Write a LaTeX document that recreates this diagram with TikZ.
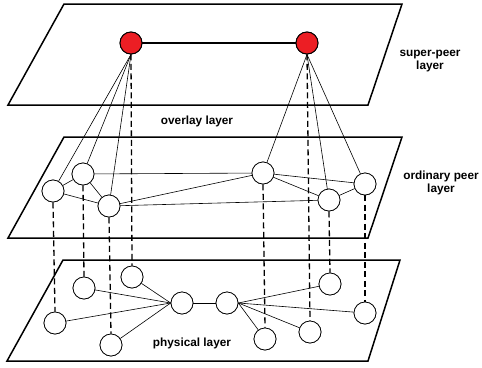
\documentclass[tikz,border=0pt]{standalone}
\usepackage{fontspec}
\setmainfont{Liberation Sans}
\begin{document}
\begin{tikzpicture}[x=1pt,y=-1pt,
  plane/.style={draw,line width=1.5pt,line join=miter},
  peer/.style={circle,draw,line width=0.7pt,fill=white,minimum size=22pt,inner sep=0pt},
  super/.style={peer,fill=superred,line width=0.9pt},
  link/.style={line width=0.6pt},
  slink/.style={line width=1.3pt},
  vlink/.style={line width=1.3pt,dash pattern=on 6pt off 3.5pt},
  lbl/.style={font=\bfseries\fontsize{11.8}{13.5}\selectfont,align=center,inner sep=0pt}
]
\definecolor{superred}{RGB}{236,30,36}
\useasboundingbox (0,0) rectangle (482,367);
% planes
\draw[plane] (64,4) -- (402,4) -- (368,105) -- (8,105) -- cycle;
\draw[plane] (64,137) -- (402,137) -- (368,238) -- (8,238) -- cycle;
\draw[plane] (63,260) -- (400,260) -- (368,361) -- (7,361) -- cycle;
% physical nodes
\node[peer] (p1) at (55,323) {};
\node[peer] (p2) at (84,288) {};
\node[peer] (p3) at (132,277) {};
\node[peer] (p4) at (111,345) {};
\node[peer] (p5) at (182,303) {};
\node[peer] (p6) at (227,303) {};
\node[peer] (p7) at (265,339) {};
\node[peer] (p8) at (310,332) {};
\node[peer] (p9) at (330,284) {};
\node[peer] (p10) at (365,313) {};
% ordinary peers
\node[peer] (a) at (53,191) {};
\node[peer] (b) at (83,174) {};
\node[peer] (c) at (109,206) {};
\node[peer] (d) at (263,173) {};
\node[peer] (e) at (329,200) {};
\node[peer] (f) at (365,184) {};
% super peers
\node[super] (s1) at (131,43) {};
\node[super] (s2) at (307,43) {};
% vertical dashed links
\begin{scope}[on background layer/.style={}]
\draw[vlink] (s1.south) -- (p3.north);
\draw[vlink] (s2.south) -- (p8.north);
\draw[vlink] (a.south) -- (p1.north);
\draw[vlink] (b.south) -- (p2.north);
\draw[vlink] (c.south) -- (p4.north);
\draw[vlink] (d.south) -- (p7.north);
\draw[vlink] (e.south) -- (p9.north);
\draw[vlink] (f.south) -- (p10.north);
\end{scope}
% super links
\draw[slink] (s1) -- (s2);
\draw[link] (s1.south) -- (a);
\draw[link] (s1.south) -- (b);
\draw[link] (s1.south) -- (c);
\draw[link] (s2.south) -- (d);
\draw[link] (s2.south) -- (e);
\draw[link] (s2.south) -- (f);
% ordinary links
\draw[link] (a) -- (b);
\draw[link] (a) -- (c);
\draw[link] (b) -- (c);
\draw[link] (b) -- (d);
\draw[link] (c) -- (d);
\draw[link] (c) -- (e);
\draw[link] (d) -- (e);
\draw[link] (d) -- (f);
\draw[link] (e) -- (f);
% physical links
\draw[link] (p5.west) -- (p1);
\draw[link] (p5.west) -- (p2);
\draw[link] (p5.west) -- (p3);
\draw[link] (p5.west) -- (p4);
\draw[link] (p5) -- (p6);
\draw[link] (p6.east) -- (p7);
\draw[link] (p6.east) -- (p8);
\draw[link] (p6.east) -- (p9);
\draw[link] (p6.east) -- (p10);
% redraw nodes on top
\foreach \n in {p1,p2,p3,p4,p5,p6,p7,p8,p9,p10,a,b,c,d,e,f}{
  \node[peer] at (\n) {};
}
\node[super] at (s1) {};
\node[super] at (s2) {};
% labels
\node[lbl] (l1) at (430,61) {super-peer\\layer};
\node[lbl] (l2) at (197,121) {overlay layer};
\node[lbl] (l3) at (441,183) {ordinary peer\\layer};
\node[lbl] (l4) at (192,343) {physical layer};
\end{tikzpicture}
\end{document}
